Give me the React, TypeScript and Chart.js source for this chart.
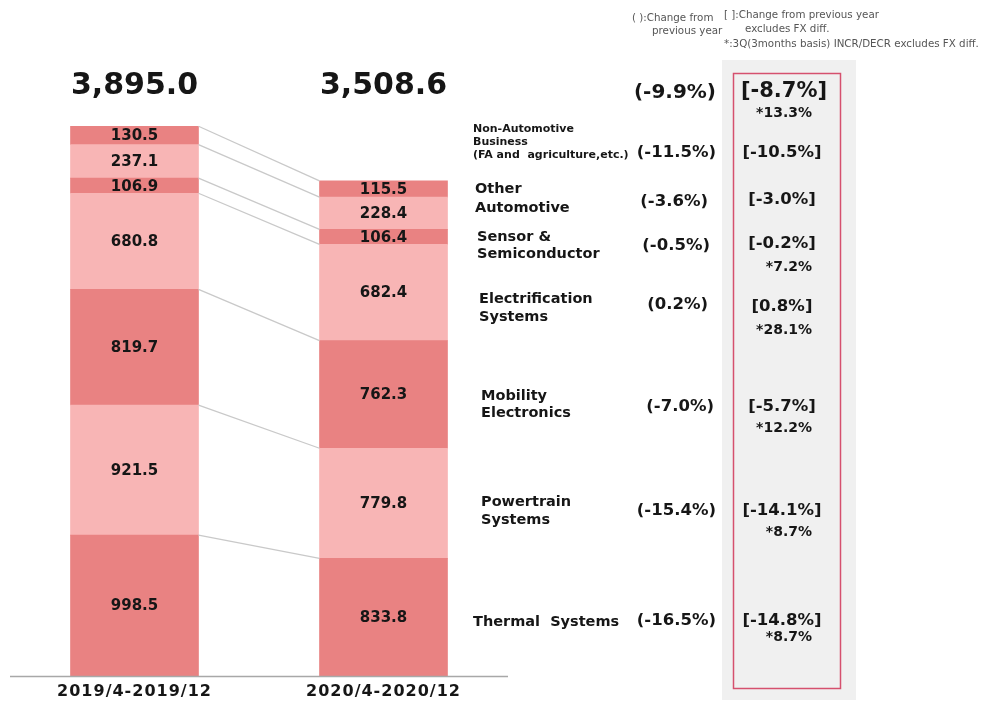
import React, { useEffect, useRef } from "react";
import { Chart, registerables } from "chart.js";

Chart.register(...registerables);

// ---------- data ----------
const categories = ["2019/4-2019/12", "2020/4-2020/12"];
const segmentNames = [
  "Thermal Systems",
  "Powertrain Systems",
  "Mobility Electronics",
  "Electrification Systems",
  "Sensor & Semiconductor",
  "Other Automotive",
  "Non-Automotive Business",
];
const values2019 = [998.5, 921.5, 819.7, 680.8, 106.9, 237.1, 130.5];
const values2020 = [833.8, 779.8, 762.3, 682.4, 106.4, 228.4, 115.5];
const yoyChange = ["(-16.5%)", "(-15.4%)", "(-7.0%)", "(0.2%)", "(-0.5%)", "(-3.6%)", "(-11.5%)"];
const fxExclChange = ["[-14.8%]", "[-14.1%]", "[-5.7%]", "[0.8%]", "[-0.2%]", "[-3.0%]", "[-10.5%]"];
const q3Change = ["*8.7%", "*8.7%", "*12.2%", "*28.1%", "*7.2%", "", ""];
const segmentLabelLines = [
  ["Thermal  Systems"],
  ["Powertrain", "Systems"],
  ["Mobility", "Electronics"],
  ["Electrification", "Systems"],
  ["Sensor &", "Semiconductor"],
  ["Other", "Automotive"],
  ["Non-Automotive", "Business", "(FA and  agriculture,etc.)"],
];
const totalYoy = "(-9.9%)";
const totalFx = "[-8.7%]";
const totalQ3 = "*13.3%";
const noteLeft = ["( ):Change from", "previous year"];
const noteRight = ["[ ]:Change from previous year", "excludes FX diff.", "*:3Q(3months basis) INCR/DECR excludes FX diff."];

// ---------- styles / layout ----------
const DARK = "#E98282";
const LIGHT = "#F8B5B5";
const segColors = [DARK, LIGHT, DARK, LIGHT, DARK, LIGHT, DARK];
const FONT = "'DejaVu Sans', Verdana, sans-serif";
const TEXT = "#161616";

const rowLayout = [
  { labelX: 473, labelY: [622], yoyY: 621, yoyRight: 716, fxY: 621, q3Y: 637 },
  { labelX: 481, labelY: [502, 520], yoyY: 511, yoyRight: 716, fxY: 511, q3Y: 532 },
  { labelX: 481, labelY: [396, 413], yoyY: 407, yoyRight: 714, fxY: 407, q3Y: 428 },
  { labelX: 479, labelY: [299, 317], yoyY: 305, yoyRight: 708, fxY: 307, q3Y: 330 },
  { labelX: 477, labelY: [237, 254], yoyY: 246, yoyRight: 710, fxY: 244, q3Y: 267 },
  { labelX: 475, labelY: [189, 208], yoyY: 202, yoyRight: 708, fxY: 200, q3Y: 0 },
  { labelX: 473, labelY: [129, 142, 155], yoyY: 153, yoyRight: 716, fxY: 153, q3Y: 0 },
];

const fmtTotal = (v: number) =>
  v.toLocaleString("en-US", { minimumFractionDigits: 1, maximumFractionDigits: 1 });

const overlayPlugin = {
  id: "overlay",
  afterDatasetsDraw(chart: any) {
    const ctx = chart.ctx as CanvasRenderingContext2D;
    const area = chart.chartArea;
    ctx.save();

    // connector lines
    const n = chart.data.datasets.length;
    ctx.strokeStyle = "#c9c9c9";
    ctx.lineWidth = 1.3;
    for (let i = 0; i < n; i++) {
      const meta = chart.getDatasetMeta(i);
      const a = meta.data[0];
      const b = meta.data[1];
      ctx.beginPath();
      ctx.moveTo(a.x + a.width / 2, a.y);
      ctx.lineTo(b.x - b.width / 2, b.y);
      ctx.stroke();
    }

    // segment value labels
    ctx.fillStyle = TEXT;
    ctx.textAlign = "center";
    ctx.textBaseline = "middle";
    ctx.font = `bold 15px ${FONT}`;
    for (let i = 0; i < n; i++) {
      const meta = chart.getDatasetMeta(i);
      meta.data.forEach((el: any, j: number) => {
        const v = chart.data.datasets[i].data[j] as number;
        ctx.fillText(v.toFixed(1), el.x, (el.y + el.base) / 2 + 1);
      });
    }

    // totals
    ctx.font = `bold 30px ${FONT}`;
    const lastMeta = chart.getDatasetMeta(n - 1);
    [values2019, values2020].forEach((vals, j) => {
      const total = vals.reduce((s, v) => s + v, 0);
      ctx.fillText(fmtTotal(total), lastMeta.data[j].x, 86);
    });

    // baseline
    ctx.strokeStyle = "#a8a8a8";
    ctx.lineWidth = 1.5;
    ctx.beginPath();
    ctx.moveTo(area.left, area.bottom + 0.5);
    ctx.lineTo(area.right, area.bottom + 0.5);
    ctx.stroke();

    // category labels
    ctx.font = `bold 16px ${FONT}`;
    (ctx as any).letterSpacing = "1px";
    categories.forEach((c, j) => {
      ctx.fillText(c, lastMeta.data[j].x, 692);
    });
    (ctx as any).letterSpacing = "0px";

    // right panel
    ctx.fillStyle = "#f0f0f0";
    ctx.fillRect(722, 60, 134, 640);
    ctx.strokeStyle = "#d5506e";
    ctx.lineWidth = 1.5;
    ctx.strokeRect(733.5, 73.5, 107, 615);

    // notes
    ctx.fillStyle = "#555";
    ctx.font = `10.3px ${FONT}`;
    ctx.textAlign = "left";
    ctx.fillText(noteLeft[0], 632, 18);
    ctx.fillText(noteLeft[1], 652, 31);
    ctx.fillText(noteRight[0], 724, 15);
    ctx.fillText(noteRight[1], 745, 29);
    ctx.fillText(noteRight[2], 724, 44);

    // total row
    ctx.fillStyle = TEXT;
    ctx.font = `bold 20px ${FONT}`;
    ctx.textAlign = "right";
    ctx.fillText(totalYoy, 716, 93);
    ctx.font = `bold 21px ${FONT}`;
    ctx.textAlign = "center";
    ctx.fillText(totalFx, 784, 92);
    ctx.font = `bold 14px ${FONT}`;
    ctx.textAlign = "right";
    ctx.fillText(totalQ3, 812, 113);

    // segment rows
    rowLayout.forEach((r, i) => {
      const lines = segmentLabelLines[i];
      ctx.textAlign = "left";
      ctx.font = lines.length === 3 ? `bold 11px ${FONT}` : `bold 14.5px ${FONT}`;
      lines.forEach((ln, k) => ctx.fillText(ln, r.labelX, r.labelY[k]));
      ctx.font = `bold 16.5px ${FONT}`;
      ctx.textAlign = "right";
      ctx.fillText(yoyChange[i], r.yoyRight, r.yoyY);
      ctx.textAlign = "center";
      ctx.fillText(fxExclChange[i], 782, r.fxY);
      if (q3Change[i]) {
        ctx.font = `bold 14px ${FONT}`;
        ctx.textAlign = "right";
        ctx.fillText(q3Change[i], 812, r.q3Y);
      }
    });

    ctx.restore();
  },
};

export default function App() {
  const ref = useRef<HTMLCanvasElement | null>(null);

  useEffect(() => {
    if (!ref.current) return;
    const chart = new Chart(ref.current, {
      type: "bar",
      data: {
        labels: categories,
        datasets: segmentNames.map((name, i) => ({
          label: name,
          data: [values2019[i], values2020[i]],
          backgroundColor: segColors[i],
          borderWidth: 0,
          barThickness: 128,
        })),
      },
      options: {
        responsive: false,
        animation: false,
        devicePixelRatio: 1,
        layout: { padding: { left: 10, right: 478, top: 55, bottom: 28 } },
        plugins: { legend: { display: false }, tooltip: { enabled: false } },
        scales: {
          x: { stacked: true, display: false },
          y: { stacked: true, display: false, min: 0, max: 4400 },
        },
      },
      plugins: [overlayPlugin],
    });
    return () => chart.destroy();
  }, []);

  return (
    <div style={{ position: "absolute", left: 0, top: 0, width: 986, height: 704, background: "#fff" }}>
      <canvas ref={ref} width={986} height={704} style={{ display: "block" }} />
    </div>
  );
}
